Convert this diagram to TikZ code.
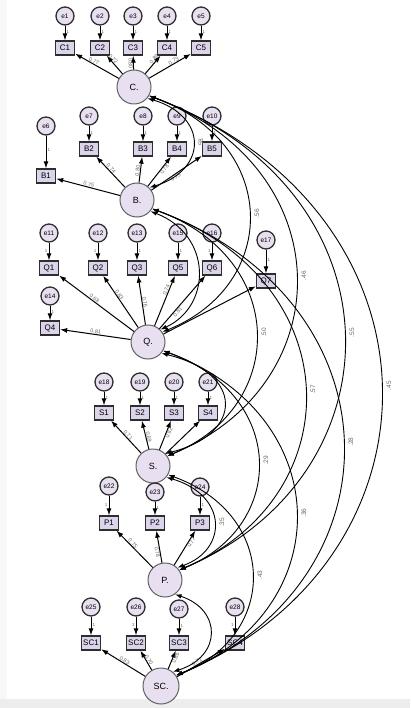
\documentclass[tikz,border=0pt]{standalone}
\usepackage{fontspec}
\setmainfont{Liberation Sans}
\usetikzlibrary{arrows.meta,calc}
\definecolor{latfill}{HTML}{E8E0F1}
\definecolor{boxfill}{HTML}{DCD4EA}
\definecolor{lblgray}{HTML}{6A6A6A}
\definecolor{edge}{HTML}{2E2E2E}
\definecolor{band}{HTML}{EDEDED}

\tikzset{
  latent/.style={circle, draw=edge!75, line width=1pt, fill=latfill, minimum size=34pt,
    inner sep=0pt, font=\fontsize{9}{10}\selectfont},
  errc/.style={circle, draw=edge, line width=1.3pt, fill=latfill, minimum size=18pt,
    inner sep=0pt, font=\fontsize{6.5}{7}\selectfont},
  obs/.style={rectangle, draw=edge, line width=1.3pt, fill=boxfill, minimum width=19pt,
    minimum height=14pt, inner sep=1pt, font=\fontsize{8}{8}\selectfont},
  load/.style={-{Latex[length=7pt,width=5pt]}, line width=1pt, black},
  covline/.style={{Latex[length=6.5pt,width=4.5pt]}-{Latex[length=6.5pt,width=4.5pt]},
    line width=0.9pt, black},
  ld/.style={sloped, text=lblgray, font=\fontsize{5.5}{5.5}\selectfont, inner sep=0.3pt},
  onel/.style={text=lblgray, font=\fontsize{4.5}{5}\selectfont, inner sep=1pt, pos=.45},
  covlbl/.style={rotate=90, text=lblgray, font=\fontsize{6.5}{7}\selectfont, inner sep=1pt},
}

% covariance arc: from node, anchor angle, to node, anchor angle, rightmost x, label
\newcommand\covarc[6]{%
  \draw[covline] let \p1=(#1.#2), \p2=(#3.#4),
      \n1={(#5-0.125*(\x1+\x2))/0.75}, \n2={0.2*(\y1-\y2)} in
    (\p1) .. controls (\n1,\y1-\n2) and (\n1,\y2+\n2) .. (\p2)
    node[covlbl] at ({#5+8},{0.5*(\y1+\y2)}) {#6};
}

\begin{document}
\begin{tikzpicture}[x=1pt,y=1pt]
  % page
  \fill[white] (0,0) rectangle (410,-708);
  \fill[band] (0,-699) rectangle (410,-708);
  \fill[band!40] (0,0) rectangle (7,-699);
  \useasboundingbox (0,0) rectangle (410,-708);

  % latent factors
  \node[latent] (C) at (134,-87) {C.};
  \node[latent] (B) at (137,-200) {B.};
  \node[latent] (Q) at (148,-342) {Q.};
  \node[latent] (S) at (153,-466) {S.};
  \node[latent] (P) at (165,-580) {P.};
  \node[latent, minimum size=36pt] (SC) at (161,-686) {SC.};

  % C block
  \foreach \i/\x in {1/65,2/100,3/133,4/167,5/201}{
    \node[obs] (C\i) at (\x,-48) {C\i};
    \node[errc] (e\i) at (\x,-16) {e\i};
  }
  % B block
  \node[obs] (B1) at (46,-176) {B1};  \node[errc] (e6) at (46,-126) {e6};
  \node[obs] (B2) at (89,-149) {B2};  \node[errc] (e7) at (89,-116) {e7};
  \node[obs] (B3) at (143,-149) {B3}; \node[errc] (e8) at (143,-116) {e8};
  \node[obs] (B4) at (177,-149) {B4}; \node[errc] (e9) at (177,-116) {e9};
  \node[obs] (B5) at (212,-149) {B5}; \node[errc] (e10) at (212,-116) {e10};
  % Q block
  \node[obs] (Q1) at (49,-268) {Q1};  \node[errc] (e11) at (49,-233) {e11};
  \node[obs] (Q2) at (98,-268) {Q2};  \node[errc] (e12) at (98,-233) {e12};
  \node[obs] (Q3) at (137,-268) {Q3}; \node[errc] (e13) at (137,-233) {e13};
  \node[obs] (Q4) at (50,-328) {Q4};  \node[errc] (e14) at (50,-296) {e14};
  \node[obs] (Q5) at (178,-268) {Q5}; \node[errc] (e15) at (178,-233) {e15};
  \node[obs] (Q6) at (212,-268) {Q6}; \node[errc] (e16) at (212,-233) {e16};
  \node[obs] (Q7) at (266,-281) {Q7}; \node[errc] (e17) at (266,-240) {e17};
  % S block
  \node[obs] (S1) at (104,-413) {S1}; \node[errc] (e18) at (104,-382) {e18};
  \node[obs] (S2) at (140,-413) {S2}; \node[errc] (e19) at (140,-382) {e19};
  \node[obs] (S3) at (174,-413) {S3}; \node[errc] (e20) at (174,-382) {e20};
  \node[obs] (S4) at (208,-413) {S4}; \node[errc] (e21) at (208,-382) {e21};
  % P block
  \node[obs] (P1) at (109,-523) {P1}; \node[errc] (e22) at (109,-486) {e22};
  \node[obs] (P2) at (155,-523) {P2}; \node[errc] (e23) at (155,-492) {e23};
  \node[obs] (P3) at (200,-523) {P3}; \node[errc] (e24) at (200,-487) {e24};
  % SC block
  \node[obs] (SC1) at (91,-643) {SC1};  \node[errc] (e25) at (91,-607) {e25};
  \node[obs] (SC2) at (136,-643) {SC2}; \node[errc] (e26) at (136,-607) {e26};
  \node[obs] (SC3) at (179,-643) {SC3}; \node[errc] (e27) at (179,-609) {e27};
  \node[obs] (SC4) at (235,-643) {SC4}; \node[errc] (e28) at (235,-607) {e28};

  % error terms -> indicators
  \foreach \e/\o in {e1/C1,e2/C2,e3/C3,e4/C4,e5/C5,e6/B1,e7/B2,e8/B3,e9/B4,e10/B5,
      e13/Q3,e14/Q4,e15/Q5,e17/Q7,e18/S1,e19/S2,e20/S3,e21/S4,e23/P2,e24/P3,e25/SC1,e27/SC3}
    \draw[load] (\e) -- node[onel, right]{1} (\o);
  \foreach \e/\o in {e11/Q1,e12/Q2,e16/Q6,e22/P1,e26/SC2,e28/SC4}
    \draw[load] (\e) -- node[onel, left]{1} (\o);

  % factor loadings
  \draw[load] (C) -- node[ld,pos=.6,above]{0.77} (C1);
  \draw[load] (C) -- node[ld,pos=.72,above]{0.72} (C2);
  \draw[load] (C) -- node[ld,pos=.45,below]{0.80} (C3);
  \draw[load] (C) -- node[ld,pos=.72,above]{0.89} (C4);
  \draw[load] (C) -- node[ld,pos=.62,above]{0.73} (C5);

  \draw[load] (B) -- node[ld,pos=.5,above]{0.75} (B1);
  \draw[load] (B) -- node[ld,pos=.55,above]{0.74} (B2);
  \draw[load] (B) -- node[ld,pos=.45,above]{0.80} (B3);
  \draw[load] (B) -- node[ld,pos=.62,below]{0.78} (B4);
  \draw[load] (B) -- node[ld,pos=.45,below]{0.75} (B5);

  \draw[load] (Q) -- node[ld,pos=.55,above]{0.68} (Q1);
  \draw[load] (Q) -- node[ld,pos=.6,above]{0.83} (Q2);
  \draw[load] (Q) -- node[ld,pos=.45,above]{0.76} (Q3);
  \draw[load] (Q) -- node[ld,pos=.5,above]{0.81} (Q4);
  \draw[load] (Q) -- node[ld,pos=.7,above]{0.74} (Q5);
  \draw[load] (Q) -- node[ld,pos=.35,below]{0.81} (Q6);
  \draw[load] (Q) -- (Q7);

  \draw[load] (S) -- node[ld,pos=.5,above]{0.71} (S1);
  \draw[load] (S) -- node[ld,pos=.4,above]{0.69} (S2);
  \draw[load] (S) -- node[ld,pos=.6,below]{0.82} (S3);
  \draw[load] (S) -- (S4);

  \draw[load] (P) -- node[ld,pos=.6,above]{0.75} (P1);
  \draw[load] (P) -- node[ld,pos=.35,below]{0.78} (P2);
  \draw[load] (P) -- node[ld,pos=.7,below]{0.77} (P3);

  \draw[load] (SC) -- node[ld,pos=.5,above]{0.83} (SC1);
  \draw[load] (SC) -- node[ld,pos=.45,above]{0.70} (SC2);
  \draw[load] (SC) -- node[ld,pos=.65,below]{0.86} (SC3);
  \draw[load] (SC) -- node[ld,pos=.45,above]{0.71} (SC4);

  % factor covariances
  \covarc{C}{-40}{B}{45}{193}{.58}
  \covarc{C}{-30}{Q}{35}{249}{.56}
  \covarc{C}{-30}{S}{35}{296}{.46}
  \covarc{C}{-30}{P}{35}{344}{.55}
  \covarc{C}{-30}{SC}{35}{381}{.45}
  \covarc{B}{-40}{Q}{45}{198}{}
  \covarc{B}{-30}{S}{35}{256}{.50}
  \covarc{B}{-30}{P}{35}{305}{.57}
  \covarc{B}{-30}{SC}{35}{343}{.28}
  \covarc{Q}{-40}{S}{45}{224}{}
  \covarc{Q}{-30}{P}{35}{258}{.29}
  \covarc{Q}{-30}{SC}{35}{296}{.36}
  \covarc{S}{-40}{P}{45}{214}{.35}
  \covarc{S}{-30}{SC}{35}{252}{.43}
  \covarc{P}{-55}{SC}{50}{210}{}
\end{tikzpicture}
\end{document}
